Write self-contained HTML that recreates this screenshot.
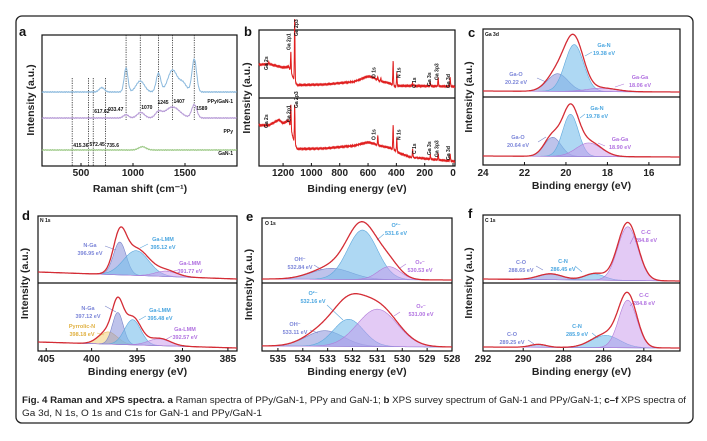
<!DOCTYPE html>
<html><head><meta charset="utf-8"><style>
html,body{margin:0;padding:0;background:#fff;}
svg{display:block;font-family:"Liberation Sans",Arial,sans-serif;}
.tk{font-size:10px;font-weight:bold;fill:#222;}
.ax{font-size:10.5px;font-weight:bold;fill:#222;}
.pl{font-size:13px;font-weight:bold;fill:#111;}
.an{font-size:5.5px;}
.sm{font-size:5px;font-weight:bold;fill:#111;}
</style></head><body>
<svg id="fig" width="707" height="441" viewBox="0 0 707 441">
<rect x="16" y="16" width="677" height="407" rx="6" fill="#fff" stroke="#222" stroke-width="1.3"/>
<text x="22" y="403" textLength="664" lengthAdjust="spacingAndGlyphs" style="font-size:9.5px" fill="#222"><tspan font-weight="bold">Fig. 4 Raman and XPS spectra. a</tspan> Raman spectra of PPy/GaN-1, PPy and GaN-1; <tspan font-weight="bold">b</tspan> XPS survey spectrum of GaN-1 and PPy/GaN-1; <tspan font-weight="bold">c–f</tspan> XPS spectra of</text>
<text x="22" y="416" textLength="240" lengthAdjust="spacingAndGlyphs" style="font-size:9.5px" fill="#222">Ga 3d, N 1s, O 1s and C1s for GaN-1 and PPy/GaN-1</text>
<g id="layer"></g>
</svg>
<script>
// ---------- Raman (panel a) data ----------
const ramanPeaksPPyGaN = [700, 933, 1070, 1245, 1380, 1480, 1589];
const ramanAmpsPPyGaN  = [0.04, 0.22, 0.1, 0.17, 0.2, 0.08, 0.3];
const ramanSigPPyGaN   = [25, 18, 40, 22, 45, 35, 22];
const ramanPeaksPPy = [933, 1075, 1245, 1380, 1589];
const ramanAmpsPPy  = [0.03, 0.05, 0.05, 0.1, 0.12];
const ramanSigPPy   = [25, 35, 30, 70, 25];
const ramanPeaksGaN = [1090];
const ramanAmpsGaN  = [0.03];
const ramanSigGaN   = [35];
const ramanShortLines = [415.36, 572.45, 617.62, 735.6];
const ramanShortLabels = ["415.36", "572.45", "617.62", "735.6"];
const ramanLongLines = [933.47, 1070, 1245, 1380, 1589];
const ramanLongLabels = ["933.47", "1070", "1245", "1407", "1589"];
const ramanTicks = [500, 1000, 1500];

// ---------- XPS survey (panel b) data ----------
const surveyBgEnergyTop = [1370, 1300, 1200, 1160, 1125, 1100, 900, 700, 600, 560, 520, 450, 410, 380, 300, 0];
const surveyBgLevelTop  = [0.46, 0.47, 0.42, 0.43, 0.25, 0.16, 0.17, 0.21, 0.29, 0.27, 0.22, 0.19, 0.14, 0.15, 0.15, 0.14];
const surveyPeaksTop = [1300, 1145, 1118, 531, 510, 423, 397, 285, 160, 105, 20];
const surveyAmpsTop  = [0.03, 0.30, 0.90, 0.05, 0.05, 0.36, 0.2, 0.04, 0.05, 0.13, 0.13];
const surveyBgEnergyBot = [1370, 1300, 1230, 1200, 1160, 1125, 1100, 900, 700, 600, 560, 520, 450, 410, 380, 300, 0];
const surveyBgLevelBot  = [0.57, 0.57, 0.65, 0.6, 0.64, 0.35, 0.22, 0.23, 0.27, 0.32, 0.3, 0.27, 0.24, 0.2, 0.16, 0.1, 0.04];
const surveyPeaksBot = [1145, 1118, 531, 423, 397, 285, 160, 105, 20];
const surveyAmpsBot  = [0.36, 0.55, 0.14, 0.36, 0.2, 0.12, 0.06, 0.1, 0.1];
const surveyTicks = [1200, 1000, 800, 600, 400, 200, 0];

// ---------- Ga 3d (panel c) ----------
const cTopNames = ["Ga-O", "Ga-N", "Ga-Ga"];
const cTopValues = ["20.22 eV", "19.38 eV", "18.06 eV"];
const cTopCenters = [20.4, 19.6, 18.3];
const cTopAmps = [0.26, 0.69, 0.05];
const cTopSigmas = [0.5, 0.45, 0.7];
const cBotNames = ["Ga-O", "Ga-N", "Ga-Ga"];
const cBotValues = ["20.64 eV", "19.78 eV", "18.90 eV"];
const cBotCenters = [20.64, 19.78, 18.9];
const cBotAmps = [0.28, 0.62, 0.2];
const cBotSigmas = [0.4, 0.38, 0.6];
const cTicks = [24, 22, 20, 18, 16];

// ---------- N 1s (panel d) ----------
const dTopNames = ["N-Ga", "Ga-LMM", "Ga-LMM"];
const dTopValues = ["396.95 eV", "395.12 eV", "391.77 eV"];
const dTopCenters = [396.9, 395.1, 391.8];
const dTopAmps = [0.49, 0.37, 0.08];
const dTopSigmas = [0.7, 1.4, 1.2];
const dBotNames = ["Pyrrolic-N", "N-Ga", "Ga-LMM", "Ga-LMM"];
const dBotValues = ["398.18 eV", "397.12 eV", "395.48 eV", "392.57 eV"];
const dBotCenters = [398.18, 397.12, 395.48, 392.57];
const dBotAmps = [0.18, 0.47, 0.37, 0.1];
const dBotSigmas = [1.0, 0.6, 0.9, 1.2];
const dTicks = [405, 400, 395, 390, 385];

// ---------- O 1s (panel e) ----------
const eTopNames = ["OH⁻", "O²⁻", "O₂⁻"];
const eTopValues = ["532.84 eV", "531.6 eV", "530.53 eV"];
const eTopCenters = [532.84, 531.6, 530.53];
const eTopAmps = [0.17, 0.76, 0.2];
const eTopSigmas = [0.8, 0.6, 0.45];
const eBotNames = ["OH⁻", "O²⁻", "O₂⁻"];
const eBotValues = ["533.11 eV", "532.16 eV", "531.00 eV"];
const eBotCenters = [533.11, 532.16, 531.0];
const eBotAmps = [0.23, 0.4, 0.55];
const eBotSigmas = [0.75, 0.6, 0.8];
const eTicks = [535, 534, 533, 532, 531, 530, 529, 528];

// ---------- C 1s (panel f) ----------
const fTopNames = ["C-O", "C-N", "C-C"];
const fTopValues = ["288.65 eV", "286.45 eV", "284.8 eV"];
const fTopCenters = [288.65, 286.45, 284.8];
const fTopAmps = [0.08, 0.09, 0.79];
const fTopSigmas = [0.6, 0.5, 0.5];
const fBotNames = ["C-O", "C-N", "C-C"];
const fBotValues = ["289.25 eV", "285.9 eV", "284.8 eV"];
const fBotCenters = [289.25, 285.9, 284.8];
const fBotAmps = [0.04, 0.18, 0.7];
const fBotSigmas = [0.4, 0.7, 0.45];
const fTicks = [292, 290, 288, 286, 284];

const NS = "http://www.w3.org/2000/svg";
const layer = document.getElementById("layer");
function mk(tag, attrs, parent) {
  const e = document.createElementNS(NS, tag);
  for (const k in attrs) e.setAttribute(k, attrs[k]);
  (parent || layer).appendChild(e);
  return e;
}
function txt(x, y, s, cls, parent, extra) {
  const t = mk("text", Object.assign({x: x, y: y, class: cls}, extra || {}), parent);
  t.textContent = s;
  return t;
}
function lin(d0, d1, r0, r1) { return v => r0 + (v - d0) * (r1 - r0) / (d1 - d0); }
function gauss(x, c, a, s) { return a * Math.exp(-(x - c) * (x - c) / (2 * s * s)); }
function interp(xs, ys, x) {
  for (let i = 0; i < xs.length - 1; i++) {
    const a = xs[i], b = xs[i + 1];
    if ((x <= a && x >= b) || (x >= a && x <= b)) return ys[i] + (ys[i + 1] - ys[i]) * (x - a) / (b - a);
  }
  return ys[ys.length - 1];
}

function axisBox(x0, y0, x1, y1, name) {
  const r = mk("rect", {x: x0, y: y0, width: x1 - x0, height: y1 - y0, fill: "none", stroke: "#111", "stroke-width": 1.2});
  
  
}
function xTicks(ticks, sx, yb, ylab, name) {
  const g = mk("g", {});
  
  
  ticks.forEach(t => {
    mk("line", {x1: sx(t), x2: sx(t), y1: yb, y2: yb - 3, stroke: "#111", "stroke-width": 1}, g);
    txt(sx(t), ylab, String(t), "tk", g, {"text-anchor": "middle"});
  });
}
function labels(panel, letter, lx, ly, xtitle, xtx, xty, ytx, yty) {
  const l = txt(lx, ly, letter, "pl");
  
  
  const xt = txt(xtx, xty, xtitle, "ax", null, {"text-anchor": "middle"});
  
  
  const yt = txt(ytx, yty, "Intensity (a.u.)", "ax", null, {"text-anchor": "middle", transform: "rotate(-90 " + ytx + " " + yty + ")"});
  
  
}

// ================= PANEL A =================
(function () {
  const x0 = 42, x1 = 237, y0 = 35, y1 = 166;
  const sx = lin(125, 2000, x0, x1);
  const H = 110;
  axisBox(x0, y0, x1, y1, "panel-a-plot-area");
  xTicks(ramanTicks, sx, y1, 176, "panel-a-x-ticks");
  labels("a", "a", 19, 36, "Raman shift (cm⁻¹)", 140, 192, 34, 100);
  ramanShortLines.forEach((v, i) => {
    const l = mk("line", {x1: sx(v), x2: sx(v), y1: 78, y2: y1, stroke: "#222", "stroke-width": 0.8, "stroke-dasharray": "1.2,1.2"});
    
    
  });
  [["415.36", 415.36, 147], ["572.45", 572.45, 146], ["735.6", 735.6, 147]].forEach(s => txt(sx(s[1]) + 1, s[2], s[0], "sm"));
  txt(sx(617.62) + 1, 113, "617.62", "sm");
  ramanLongLines.forEach((v, i) => {
    const l = mk("line", {x1: sx(v), x2: sx(v), y1: y0, y2: 120, stroke: "#222", "stroke-width": 0.8, "stroke-dasharray": "1.2,1.2"});
    
    
  });
  [["933.47", 933.47, 111, -18], ["1070", 1070, 109, 1], ["1245", 1245, 104, -1], ["1407", 1380, 103, 1], ["1589", 1589, 110, 2]].forEach(s => txt(sx(s[1]) + s[3], s[2], s[0], "sm"));
  function curve(base, pk, am, sg, color, name) {
    let d = "";
    for (let v = 125; v <= 2000; v += 4) {
      let y = 0;
      for (let i = 0; i < pk.length; i++) y += gauss(v, pk[i], am[i], sg[i]);
      y += 0.004 * Math.sin(v * 0.37);
      d += (d ? "L" : "M") + sx(v).toFixed(1) + "," + (base - y * H).toFixed(1);
    }
    const p = mk("path", {d: d, fill: "none", stroke: color, "stroke-width": 1});
    
    
  }
  curve(92, ramanPeaksPPyGaN, ramanAmpsPPyGaN, ramanSigPPyGaN, "#8bb9dd", "raman-ppy-gan-1-line");
  curve(118, ramanPeaksPPy, ramanAmpsPPy, ramanSigPPy, "#b69ad6", "raman-ppy-line");
  curve(150, ramanPeaksGaN, ramanAmpsGaN, ramanSigGaN, "#9cc986", "raman-gan-1-line");
  [["PPy/GaN-1", 103], ["PPy", 133], ["GaN-1", 155]].forEach(s => {
    const t = txt(233, s[1], s[0], "sm", null, {"text-anchor": "end"});
    
    
  });
})();

// ================= PANEL B =================
(function () {
  const x0 = 259, x1 = 455, y0 = 30, ym = 98, y1 = 166;
  const sx = lin(1370, -14, x0, x1);
  axisBox(x0, y0, x1, y1, "panel-b-plot-area");
  const dv = mk("line", {x1: x0, x2: x1, y1: ym, y2: ym, stroke: "#111", "stroke-width": 1.2});
  
  
  xTicks(surveyTicks, sx, y1, 176, "panel-b-x-ticks");
  labels("b", "b", 244, 36, "Binding energy (eV)", 357, 192, 250, 98);
  function survey(bgE, bgL, pk, am, top, bot, name) {
    const H = bot - top;
    let d = "";
    for (let v = 1370; v >= -12; v -= 1) {
      let y = interp(bgE, bgL, v);
      for (let i = 0; i < pk.length; i++) y += gauss(v, pk[i], am[i], 2.2);
      y += 0.008 * Math.sin(v * 1.3);
      d += (d ? "L" : "M") + sx(v).toFixed(1) + "," + (bot - 2 - y * H).toFixed(1);
    }
    const p = mk("path", {d: d, fill: "none", stroke: "#e02020", "stroke-width": 1});
    
    
  }
  survey(surveyBgEnergyTop, surveyBgLevelTop, surveyPeaksTop, surveyAmpsTop, y0, ym, "survey-gan-1-line");
  survey(surveyBgEnergyBot, surveyBgLevelBot, surveyPeaksBot, surveyAmpsBot, ym, y1, "survey-ppy-gan-1-line");
  const topL = [["Ga 2s", 1320, 70], ["Ga 2p1", 1160, 50], ["Ga 2p3", 1110, 36], ["O 1s", 560, 78], ["N 1s", 385, 78], ["C 1s", 275, 88], ["Ga 3s", 170, 86], ["Ga 3p3", 115, 80], ["Ga 3d", 35, 88]];
  const botL = [["Ga 2s", 1320, 128], ["Ga 2p1", 1160, 122], ["Ga 2p3", 1110, 108], ["O 1s", 560, 140], ["N 1s", 385, 140], ["C 1s", 275, 154], ["Ga 3s", 170, 155], ["Ga 3p3", 115, 157], ["Ga 3d", 35, 160]];
  topL.concat(botL).forEach(s => {
    const x = sx(s[1]) + 2;
    const t = txt(x, s[2], s[0], "sm", null, {transform: "rotate(-90 " + x + " " + s[2] + ")"});
    
    
  });
})();

// ================= FIT PANELS =================
const palette = {
  blue: ["rgba(120,190,235,0.6)", "#5fa8dc", "#4aa6e0"],
  slate: ["rgba(125,135,215,0.5)", "#7a84c8", "#7a84d8"],
  purple: ["rgba(200,150,235,0.5)", "#b07ad8", "#b070e0"],
  yellow: ["rgba(245,215,140,0.65)", "#e8bf60", "#e0b040"]
};
function fitSub(sx, dMin, dMax, top, bot, yBaseL, yBaseR, names, values, centers, amps, sigmas, colors, lblPos, name) {
  const H = bot - top;
  const base = v => yBaseL + (yBaseR - yBaseL) * (v - dMax) / (dMin - dMax);
  const step = (dMax - dMin) / 300;
  for (let i = 0; i < centers.length; i++) {
    let d = "M" + sx(dMax).toFixed(1) + "," + base(dMax).toFixed(1);
    for (let v = dMax; v >= dMin - 1e-9; v -= step) d += "L" + sx(v).toFixed(1) + "," + (base(v) - gauss(v, centers[i], amps[i], sigmas[i]) * H).toFixed(1);
    d += "L" + sx(dMin).toFixed(1) + "," + base(dMin).toFixed(1) + "Z";
    const c = palette[colors[i]];
    const p = mk("path", {d: d, fill: c[0], stroke: c[1], "stroke-width": 0.6});
    
    
    const lp = lblPos[i];
    const g = mk("g", {});
    
    
    txt(lp[0], lp[1], names[i], "an", g, {fill: c[2], "text-anchor": "middle", "font-weight": "bold"});
    txt(lp[0], lp[1] + 8, values[i], "an", g, {fill: c[2], "text-anchor": "middle", "font-weight": "bold"});
    mk("line", {x1: lp[2], y1: lp[3], x2: lp[4], y2: lp[5], stroke: c[1], "stroke-width": 0.6}, g);
  }
  let d = "";
  for (let v = dMax; v >= dMin - 1e-9; v -= step) {
    let y = 0;
    for (let i = 0; i < centers.length; i++) y += gauss(v, centers[i], amps[i], sigmas[i]);
    d += (d ? "L" : "M") + sx(v).toFixed(1) + "," + (base(v) - y * 1.08 * H).toFixed(1);
  }
  const e = mk("path", {d: d, fill: "none", stroke: "#d42c35", "stroke-width": 1.3});
  
  
}
function fitPanel(p, letter, x0, x1, y0, ym, y1, dLeft, dRight, ticks, core, coreXY, lx, ly, ytx, top, bottom) {
  const sx = lin(dLeft, dRight, x0, x1);
  const dMin = Math.min(dLeft, dRight), dMax = Math.max(dLeft, dRight);
  axisBox(x0, y0, x1, y1, "panel-" + p + "-plot-area");
  const dv = mk("line", {x1: x0, x2: x1, y1: ym, y2: ym, stroke: "#111", "stroke-width": 1.2});
  
  
  fitSub(sx, dMin, dMax, y0, ym, top.bL, top.bR, top.n, top.v, top.c, top.a, top.s, top.col, top.lp, "panel-" + p + "-top");
  fitSub(sx, dMin, dMax, ym, y1, bottom.bL, bottom.bR, bottom.n, bottom.v, bottom.c, bottom.a, bottom.s, bottom.col, bottom.lp, "panel-" + p + "-bottom");
  xTicks(ticks, sx, y1, y1 + 11, "panel-" + p + "-x-ticks");
  labels(p, letter, lx, ly, "Binding energy (eV)", (x0 + x1) / 2, y1 + 24, ytx, (y0 + y1) / 2);
  const c = txt(coreXY[0], coreXY[1], core, "sm");
  
  
}

fitPanel("c", "c", 483, 680, 29, 97, 165, 24, 14.5, cTicks, "Ga 3d", [485, 36], 468, 37, 472,
  {bL: 91, bR: 92, n: cTopNames, v: cTopValues, c: cTopCenters, a: cTopAmps, s: cTopSigmas, col: ["slate", "blue", "purple"],
   lp: [[516, 76, 537, 78, 546, 82], [604, 47, 592, 52, 585, 56], [640, 79, 624, 84, 615, 87]]},
  {bL: 156, bR: 157, n: cBotNames, v: cBotValues, c: cBotCenters, a: cBotAmps, s: cBotSigmas, col: ["slate", "blue", "purple"],
   lp: [[518, 139, 538, 142, 546, 137], [597, 110, 585, 114, 580, 118], [620, 141, 605, 146, 598, 143]]});

fitPanel("d", "d", 38, 237, 216, 283, 351, 405.9, 384, dTicks, "N 1s", [40, 222], 22, 220, 28,
  {bL: 272, bR: 279, n: dTopNames, v: dTopValues, c: dTopCenters, a: dTopAmps, s: dTopSigmas, col: ["slate", "blue", "purple"],
   lp: [[90, 247, 105, 246, 116, 250], [163, 241, 148, 244, 140, 248], [190, 265, 178, 270, 170, 272]]},
  {bL: 342, bR: 348, n: dBotNames, v: dBotValues, c: dBotCenters, a: dBotAmps, s: dBotSigmas, col: ["yellow", "slate", "blue", "purple"],
   lp: [[82, 328, 97, 333, 104, 335], [88, 310, 105, 306, 116, 312], [160, 312, 146, 316, 139, 320], [185, 331, 172, 336, 165, 340]]});

fitPanel("e", "e", 262, 452, 218, 283, 351, 535.64, 528, eTicks, "O 1s", [265, 225], 246, 221, 252,
  {bL: 279, bR: 280, n: eTopNames, v: eTopValues, c: eTopCenters, a: eTopAmps, s: eTopSigmas, col: ["slate", "blue", "purple"],
   lp: [[300, 261, 314, 265, 322, 270], [396, 227, 384, 234, 377, 240], [420, 264, 406, 264, 400, 268]]},
  {bL: 346, bR: 347, n: eBotNames, v: eBotValues, c: eBotCenters, a: eBotAmps, s: eBotSigmas, col: ["slate", "blue", "purple"],
   lp: [[295, 326, 310, 330, 318, 333], [313, 295, 327, 305, 343, 320], [421, 308, 400, 312, 394, 316]]});

fitPanel("f", "f", 483, 680, 215, 283, 351, 292, 282.2, fTicks, "C 1s", [485, 222], 468, 218, 472,
  {bL: 279, bR: 281, n: fTopNames, v: fTopValues, c: fTopCenters, a: fTopAmps, s: fTopSigmas, col: ["slate", "blue", "purple"],
   lp: [[521, 264, 536, 266, 543, 270], [563, 263, 575, 266, 582, 272], [646, 234, 634, 236, 630, 244]]},
  {bL: 347, bR: 348, n: fBotNames, v: fBotValues, c: fBotCenters, a: fBotAmps, s: fBotSigmas, col: ["slate", "blue", "purple"],
   lp: [[512, 336, 528, 340, 534, 344], [577, 328, 592, 333, 598, 338], [644, 297, 634, 302, 630, 306]]});
</script>
</body></html>
